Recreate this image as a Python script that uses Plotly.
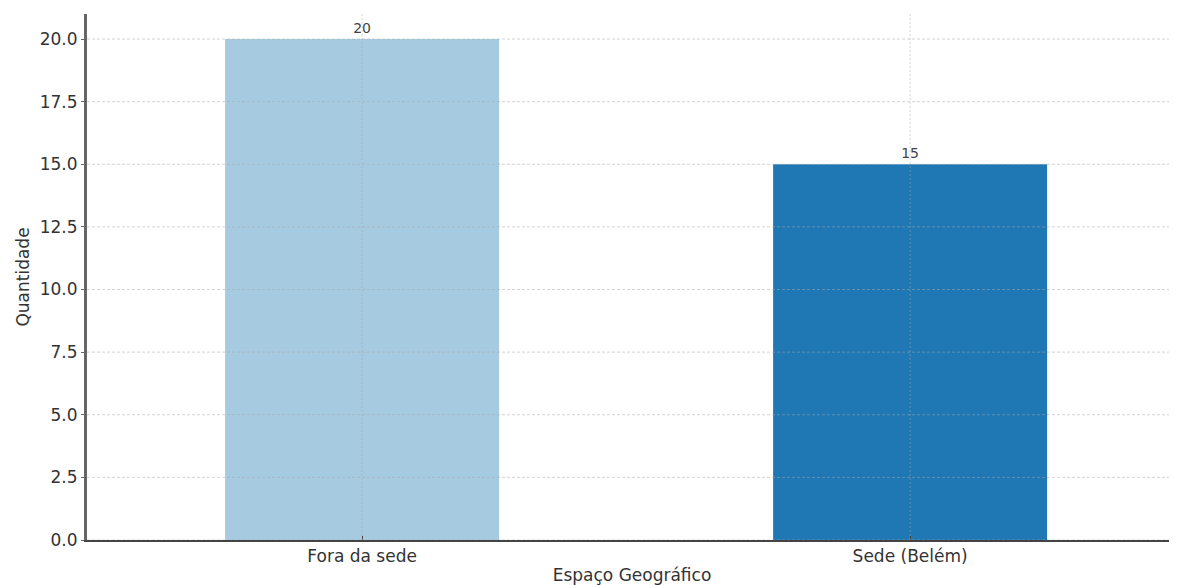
import plotly.graph_objects as go

categories = ["Fora da sede", "Sede (Belém)"]
values = [20, 15]
colors = ["#a6cbe1", "#1f77b4"]
y_ticks = [0, 2.5, 5, 7.5, 10, 12.5, 15, 17.5, 20]
y_tick_labels = ["0.0", "2.5", "5.0", "7.5", "10.0", "12.5", "15.0", "17.5", "20.0"]

fig = go.Figure()
fig.add_trace(go.Bar(
    x=categories, y=values, width=0.5,
    marker=dict(color=colors, line=dict(width=0)),
    text=[str(v) for v in values], textposition="outside",
    textfont=dict(family="DejaVu Sans", size=14, color="#444444"),
    cliponaxis=False,
))

grid_color = "rgba(170,170,170,0.5)"
for t in y_ticks:
    fig.add_shape(type="line", xref="paper", x0=0, x1=1, yref="y", y0=t, y1=t,
                  line=dict(color=grid_color, width=1, dash="3px,2px"), layer="above")
for c in categories:
    fig.add_shape(type="line", xref="x", x0=c, x1=c, yref="paper", y0=0, y1=1,
                  line=dict(color=grid_color, width=1, dash="2px,2px"), layer="above")

# page body has an 8px default margin; size the figure to fill the visible window
fig.update_layout(
    width=1169, height=577,
    margin=dict(l=79, r=0, t=6, b=45, autoexpand=False),
    plot_bgcolor="white", paper_bgcolor="white",
    showlegend=False,
    font=dict(family="DejaVu Sans", color="#333"),
    xaxis=dict(
        range=[-0.502, 1.487], showgrid=False, automargin=False,
        showline=True, linecolor="#444", linewidth=2,
        ticks="inside", ticklen=4, tickcolor="#444",
        tickfont=dict(size=17, color="#333"),
        title=dict(text="Espaço Geográfico", font=dict(size=17, color="#333"), standoff=4),
        zeroline=False,
    ),
    yaxis=dict(
        range=[0, 21], showgrid=False, zeroline=False, automargin=False,
        tickvals=y_ticks, ticktext=y_tick_labels,
        showline=True, linecolor="#666", linewidth=3,
        ticks="outside", ticklen=3, tickcolor="#666",
        tickfont=dict(size=17, color="#333"),
        title=dict(text="Quantidade", font=dict(size=17, color="#333"), standoff=6),
    ),
)

fig.write_html("out.html")
